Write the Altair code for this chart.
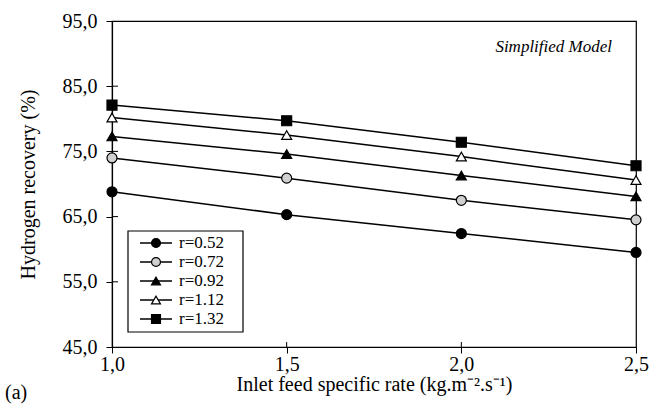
import altair as alt
import pandas as pd

# Inlet feed specific rate (kg.m-2.s-1)
feed_rate = [1.0, 1.5, 2.0, 2.5]

# Hydrogen recovery (%) for each ratio r
r_labels = ["r=0.52", "r=0.72", "r=0.92", "r=1.12", "r=1.32"]
rec_052 = [68.8, 65.3, 62.4, 59.5]
rec_072 = [74.0, 70.9, 67.5, 64.5]
rec_092 = [77.3, 74.6, 71.3, 68.1]
rec_112 = [80.2, 77.5, 74.2, 70.6]
rec_132 = [82.1, 79.7, 76.4, 72.8]

y_ticks = [45, 55, 65, 75, 85, 95]
x_ticks = [1.0, 1.5, 2.0, 2.5]

series_values = [rec_052, rec_072, rec_092, rec_112, rec_132]
rows = []
for label, vals in zip(r_labels, series_values):
    for xv, yv in zip(feed_rate, vals):
        rows.append({"series": label, "rate": xv, "recovery": yv})
df = pd.DataFrame(rows)

legend_df = pd.DataFrame({"series": r_labels, "row": list(range(len(r_labels)))})

FONT = "Liberation Serif"
W, H = 524, 326

shape_scale = alt.Scale(
    domain=r_labels,
    range=["circle", "circle", "triangle-up", "triangle-up", "square"],
)
fill_scale = alt.Scale(
    domain=r_labels,
    range=["#000000", "#d0d0d0", "#000000", "#ffffff", "#000000"],
)

comma_fmt = "replace(format(datum.value, '.1f'), '.', ',')"

x_scale = alt.Scale(domain=[1.0, 2.5], nice=False, zero=False)
y_scale = alt.Scale(domain=[45, 95], nice=False, zero=False)

x_enc = alt.X(
    "rate:Q",
    scale=x_scale,
    axis=alt.Axis(
        values=x_ticks,
        labelExpr=comma_fmt,
        labelFlush=False,
        title="Inlet feed specific rate (kg.m\u207b\u00b2.s\u207b\u00b9)",
        grid=False,
        tickSize=6,
        labelPadding=1,
        titlePadding=0,
    ),
)

lines = alt.Chart(df).mark_line(color="black", strokeWidth=1.5).encode(
    x=x_enc,
    y=alt.Y(
        "recovery:Q",
        scale=y_scale,
        axis=alt.Axis(
            values=y_ticks,
            labelExpr=comma_fmt,
            labelFlush=False,
            title="Hydrogen recovery (%)",
            grid=False,
            tickSize=6,
            labelPadding=9,
            titlePadding=24,
        ),
    ),
    detail="series:N",
)

points = alt.Chart(df).mark_point(
    filled=True, stroke="black", strokeWidth=1.2, size=100, opacity=1
).encode(
    x="rate:Q",
    y=alt.Y("recovery:Q", scale=y_scale, axis=None),
    shape=alt.Shape("series:N", scale=shape_scale, legend=None),
    fill=alt.Fill("series:N", scale=fill_scale, legend=None),
)

# Tick marks continue a few pixels inside the frame
inner_y = alt.Chart(pd.DataFrame({"tick": y_ticks[1:-1]})).mark_rule(
    color="black", strokeWidth=1
).encode(
    y=alt.Y("tick:Q", scale=y_scale, axis=None), x=alt.value(0), x2=alt.value(6)
)
inner_x = alt.Chart(pd.DataFrame({"tick": x_ticks[1:-1]})).mark_rule(
    color="black", strokeWidth=1
).encode(x="tick:Q", y=alt.value(H - 5), y2=alt.value(H))

# Hand-built legend box in the lower-left corner of the plot
legend_y = alt.Y("row:Q", scale=alt.Scale(domain=[0, 4], range=[222, 298]), axis=None)

legend_box = alt.Chart(pd.DataFrame({"k": [0]})).mark_rect(
    fill="white", stroke="black", strokeWidth=1.2
).encode(
    x=alt.value(16), x2=alt.value(131), y=alt.value(210), y2=alt.value(311)
)

legend_lines = alt.Chart(legend_df).mark_rule(color="black", strokeWidth=1.5).encode(
    x=alt.value(28), x2=alt.value(60), y=legend_y
)

legend_points = alt.Chart(legend_df).mark_point(
    filled=True, stroke="black", strokeWidth=1.2, size=80, opacity=1
).encode(
    x=alt.value(44),
    y=legend_y,
    shape=alt.Shape("series:N", scale=shape_scale, legend=None),
    fill=alt.Fill("series:N", scale=fill_scale, legend=None),
)

legend_text = alt.Chart(legend_df).mark_text(
    align="left", baseline="middle", font=FONT, fontSize=17, color="black"
).encode(x=alt.value(67), y=legend_y, text="series:N")

model_label = alt.Chart(pd.DataFrame({"t": ["Simplified Model"]})).mark_text(
    align="right", baseline="middle", font=FONT, fontSize=17, fontStyle="italic",
    color="black",
).encode(x=alt.value(500), y=alt.value(26), text="t:N")

panel_label = alt.Chart(pd.DataFrame({"t": ["(a)"]})).mark_text(
    align="left", baseline="middle", font=FONT, fontSize=20, color="black"
).encode(x=alt.value(-107), y=alt.value(372), text="t:N")

chart = (
    alt.layer(
        lines, points, inner_y, inner_x, legend_box, legend_lines, legend_points,
        legend_text, model_label, panel_label,
    )
    .resolve_scale(y="independent")
    .properties(
        width=W,
        height=H,
        autosize=alt.AutoSizeParams(type="none"),
        padding={"left": 112, "top": 21, "right": 13, "bottom": 64},
        background="white",
    )
    .configure_view(stroke="black", strokeWidth=1.2)
    .configure_axis(
        domainColor="black",
        domainWidth=1.2,
        tickColor="black",
        tickWidth=1,
        labelFont=FONT,
        labelFontSize=20,
        labelColor="black",
        titleFont=FONT,
        titleFontSize=20,
        titleFontWeight="normal",
        titleColor="black",
    )
)

chart.save("out.html", embed_options={"renderer": "svg", "actions": False})
